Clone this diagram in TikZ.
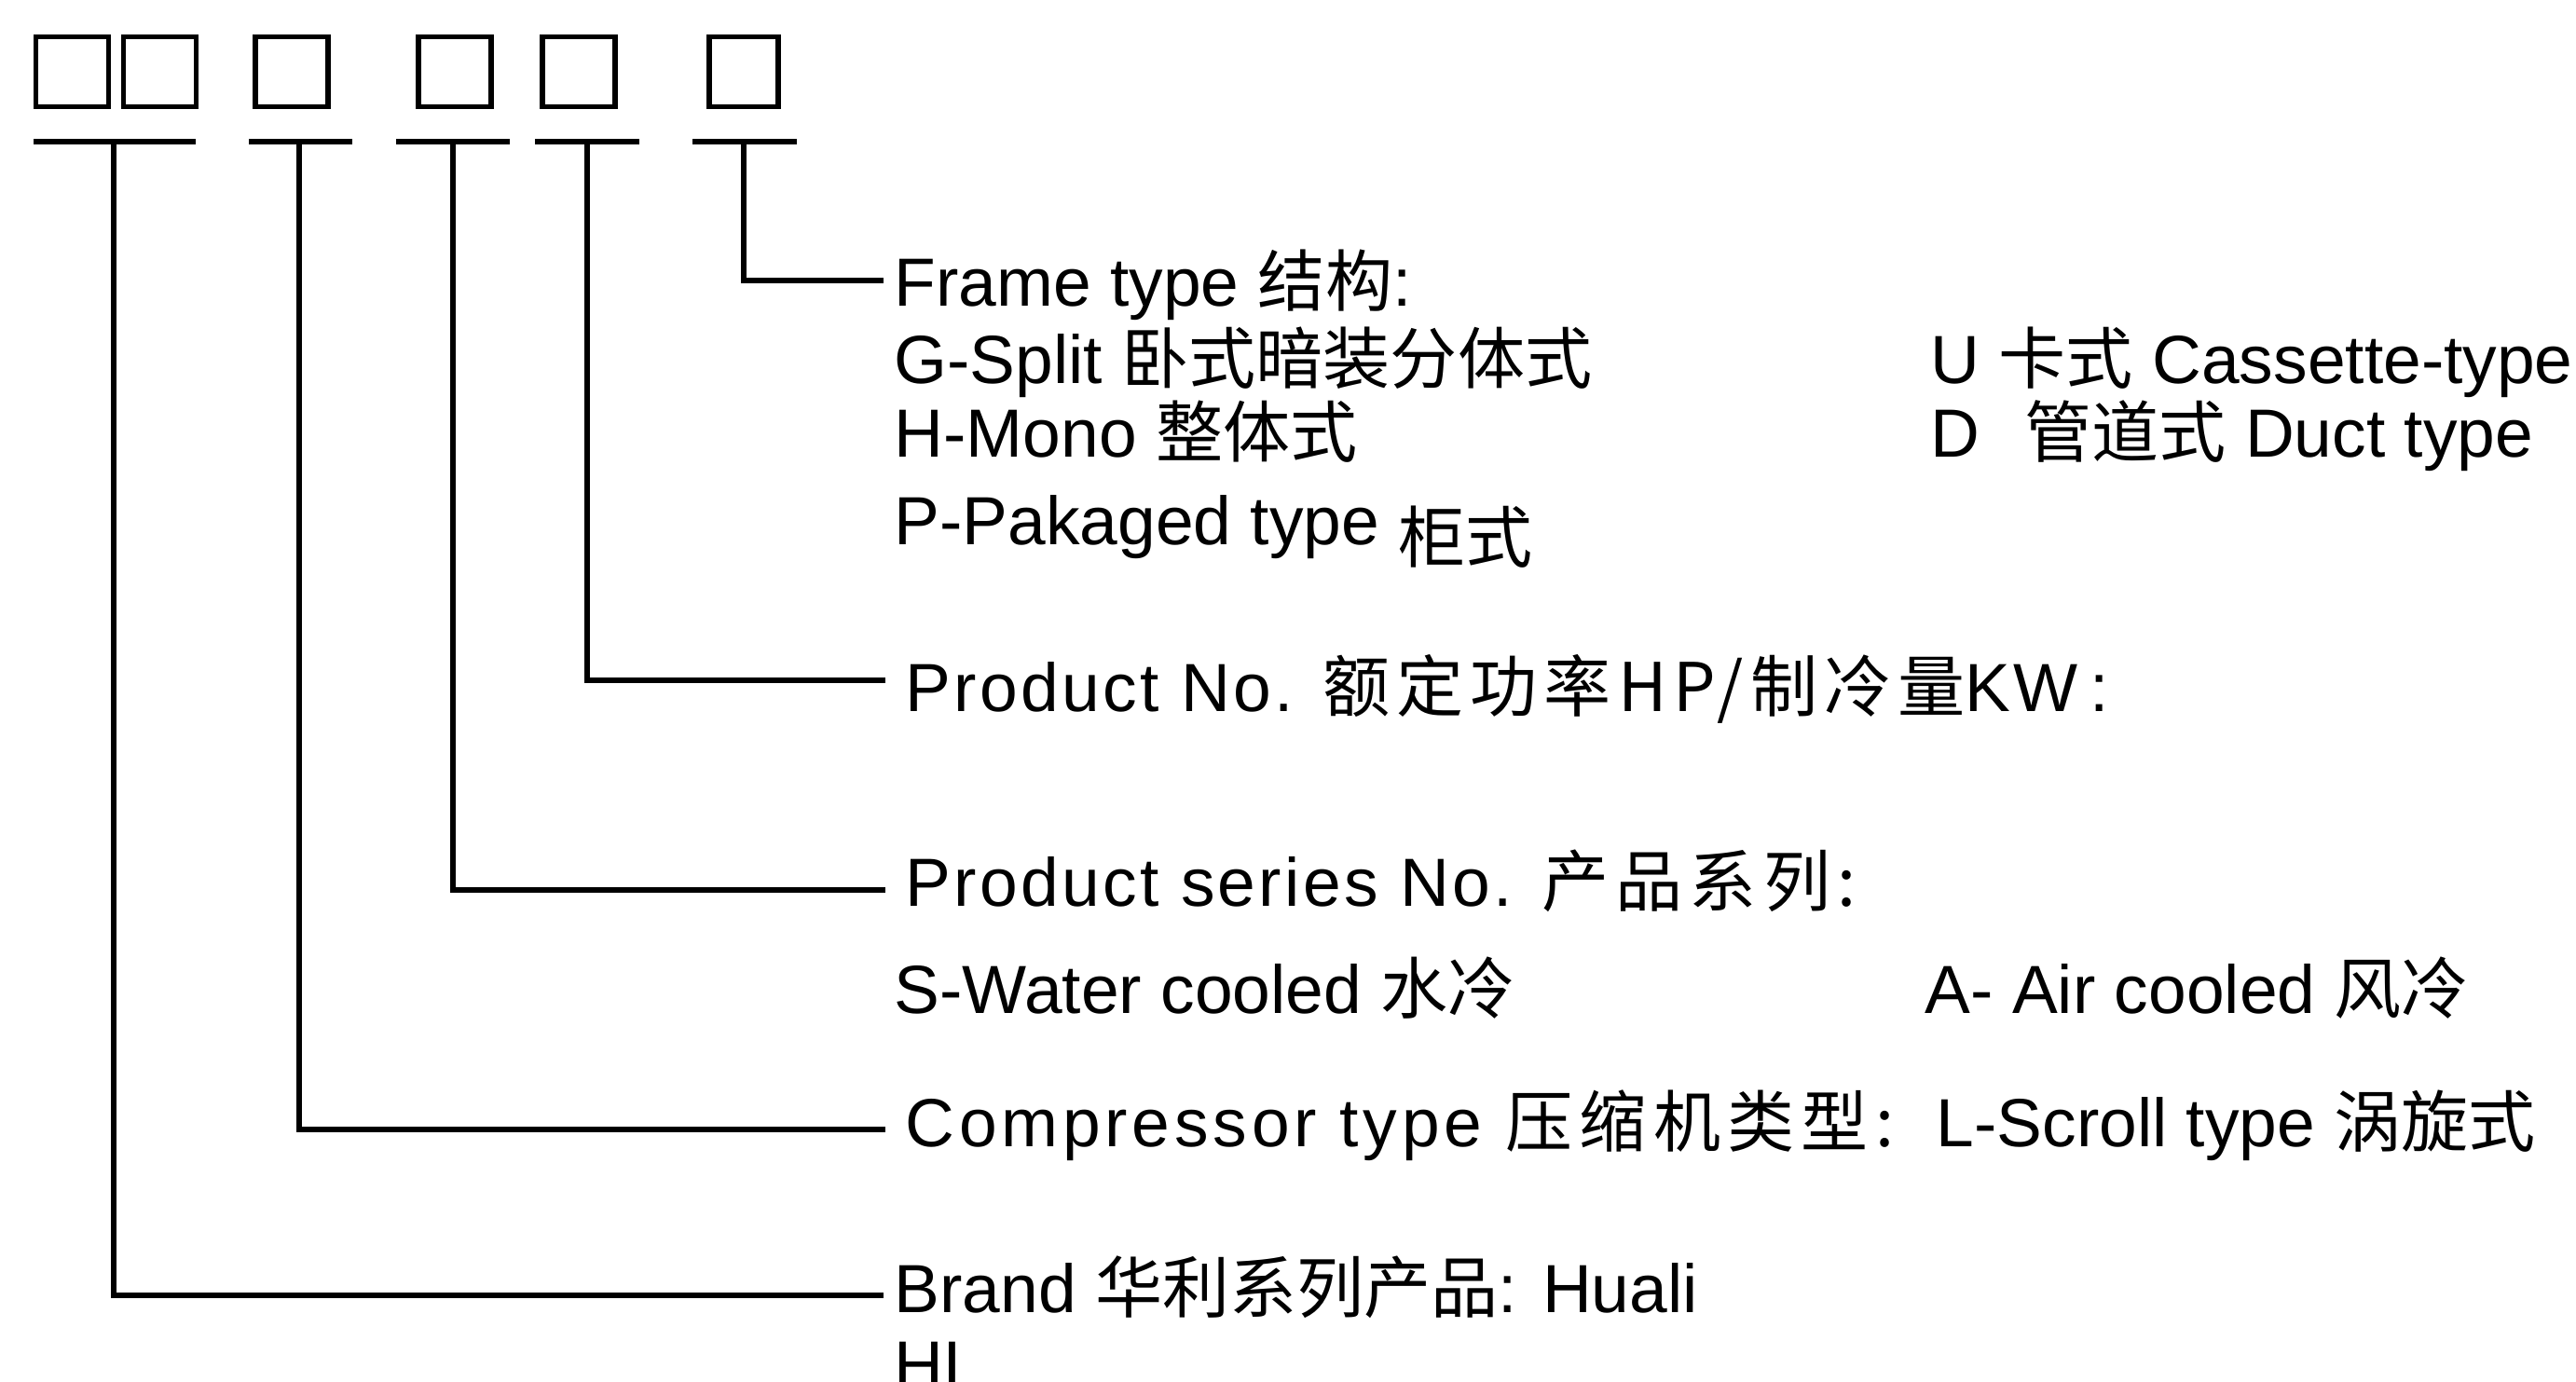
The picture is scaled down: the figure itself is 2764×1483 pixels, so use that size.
\documentclass[tikz,border=0pt]{standalone}
\usepackage{fontspec}
\setmainfont{Liberation Sans}
\newfontfamily\cjkf{Noto Sans CJK SC}
\newfontfamily\cjksp{Noto Sans CJK SC}[LetterSpace=10]
\newfontfamily\lsa{Liberation Sans}[LetterSpace=4.5]
\newfontfamily\lsb{Liberation Sans}[LetterSpace=6.5]
\newcommand\zh[1]{{\cjkf\fontsize{20.5pt}{22pt}\selectfont #1}}
\newcommand\zhs[1]{{\cjksp\fontsize{20.5pt}{22pt}\selectfont #1}}
\begin{document}
\begin{tikzpicture}[x=0.01cm,y=-0.01cm,
  digit/.style={draw, line width=1.6pt, inner sep=0pt, minimum width=0.78cm, minimum height=0.75cm},
  uline/.style={line width=1.6pt},
  conn/.style={line width=1.55pt},
  txt/.style={anchor=base west, inner sep=0pt, font=\fontsize{20.8pt}{24pt}\selectfont}]
\useasboundingbox (0,0) rectangle (2764,1483);
% code boxes
\node[digit] (b1) at (77.5,77) {};
\node[digit] (b2) at (171.5,77) {};
\node[digit] (b3) at (313,77) {};
\node[digit] (b4) at (488,77) {};
\node[digit] (b5) at (621,77) {};
\node[digit, minimum width=0.74cm] (b6) at (798,77) {};
% underlines
\coordinate (u1) at (122,152);
\coordinate (u2) at (321,152);
\coordinate (u3) at (486,152);
\coordinate (u4) at (630,152);
\coordinate (u5) at (798,152);
\draw[uline] (36,152) -- (210,152);
\draw[uline] (267,152) -- (378,152);
\draw[uline] (425,152) -- (547,152);
\draw[uline] (574,152) -- (686,152);
\draw[uline] (743,152) -- (855,152);
% connector ends
\coordinate (e5) at (948,301);
\coordinate (e4) at (950,730);
\coordinate (e3) at (950,955);
\coordinate (e2) at (950,1212);
\coordinate (e1) at (948,1390);
\draw[conn] (u5) |- (e5);
\draw[conn] (u4) |- (e4);
\draw[conn] (u3) |- (e3);
\draw[conn] (u2) |- (e2);
\draw[conn] (u1) |- (e1);
% texts
\node[txt] (t1) at (959,329) {Frame type \zh{结构}:};
\node[txt] (t2) at (959,412) {G-Split \zh{卧式暗装分体式}};
\node[txt] (t3) at (2071,412) {U \zh{卡式} Cassette-type};
\node[txt] (t4) at (959,491) {H-Mono \zh{整体式}};
\node[txt] (t5) at (2071,491) {D\hspace{0.48cm}\zh{管道式} Duct type};
\node[txt] (t6) at (959,585) {P-Pakaged type \raisebox{-0.18cm}{\zh{柜式}}};
\node[txt] (t7) at (971,764) {\lsa Product No. \zhs{额定功率HP/制冷量}KW\,:};
\node[txt] (t8) at (971,973) {\lsa Product series No. \zhs{产品系列:}};
\node[txt] (t9) at (959,1087) {S-Water cooled \zh{水冷}};
\node[txt] (t10) at (2065,1087) {A- Air cooled \zh{风冷}};
\node[txt] (t11) at (971,1230) {\lsb Compressor type \zhs{压缩机类型:}};
\node[txt] (t12) at (2077,1230) {L-Scroll type \zh{涡旋式}};
\node[txt] (t13) at (959,1408) {Brand \zh{华利系列产品}: Huali};
\node[txt] (t14) at (959,1490) {HL};
\end{tikzpicture}
\end{document}
